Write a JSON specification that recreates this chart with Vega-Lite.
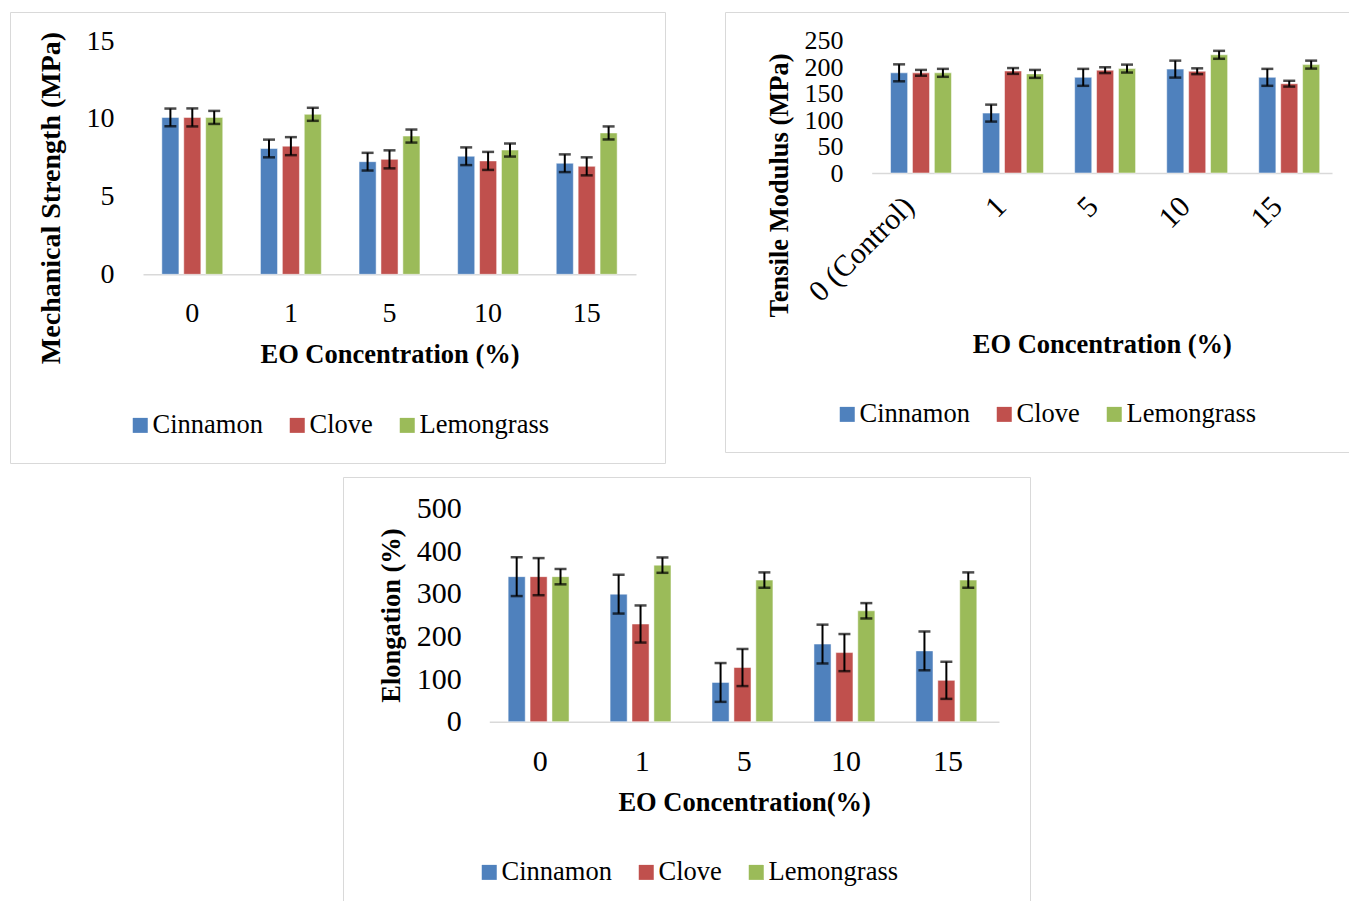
{
  "$schema": "https://vega.github.io/schema/vega-lite/v6.json",
  "padding": {"left": 9, "top": 11, "right": 0, "bottom": 0},
  "background": "white",
  "config": {
    "view": {"stroke": "#d9d9d9", "strokeWidth": 1},
    "font": "Liberation Serif",
    "axis": {"labelFont": "Liberation Serif", "titleFont": "Liberation Serif", "labelColor": "#000000", "titleColor": "#000000", "grid": false, "ticks": false, "labelOverlap": false, "labelFlush": false, "labelLimit": 400, "titleFontWeight": "bold", "titleFontSize": 26.5},
    "axisX": {"domainColor": "#d9d9d9", "domainWidth": 1.5},
    "axisY": {"domain": false},
    "legend": {"labelFont": "Liberation Serif", "labelColor": "#000000", "labelFontSize": 26.5, "symbolType": "square", "symbolSize": 225, "symbolStrokeWidth": 0, "labelOffset": -1, "columnPadding": 21, "direction": "horizontal", "orient": "none", "title": null}
  },
  "datasets": {
    "ms": [
      {"conc": "0", "oil": "Cinnamon", "value": 10.1, "lo": 9.53, "hi": 10.67},
      {"conc": "0", "oil": "Clove", "value": 10.1, "lo": 9.52, "hi": 10.68},
      {"conc": "0", "oil": "Lemongrass", "value": 10.1, "lo": 9.68, "hi": 10.52},
      {"conc": "1", "oil": "Cinnamon", "value": 8.1, "lo": 7.53, "hi": 8.67},
      {"conc": "1", "oil": "Clove", "value": 8.25, "lo": 7.67, "hi": 8.83},
      {"conc": "1", "oil": "Lemongrass", "value": 10.3, "lo": 9.88, "hi": 10.72},
      {"conc": "5", "oil": "Cinnamon", "value": 7.25, "lo": 6.68, "hi": 7.82},
      {"conc": "5", "oil": "Clove", "value": 7.4, "lo": 6.82, "hi": 7.98},
      {"conc": "5", "oil": "Lemongrass", "value": 8.9, "lo": 8.48, "hi": 9.32},
      {"conc": "10", "oil": "Cinnamon", "value": 7.6, "lo": 7.03, "hi": 8.17},
      {"conc": "10", "oil": "Clove", "value": 7.3, "lo": 6.72, "hi": 7.88},
      {"conc": "10", "oil": "Lemongrass", "value": 8.0, "lo": 7.58, "hi": 8.42},
      {"conc": "15", "oil": "Cinnamon", "value": 7.15, "lo": 6.58, "hi": 7.72},
      {"conc": "15", "oil": "Clove", "value": 6.95, "lo": 6.37, "hi": 7.53},
      {"conc": "15", "oil": "Lemongrass", "value": 9.1, "lo": 8.68, "hi": 9.52}
    ],
    "tm": [
      {"conc": "0 (Control)", "oil": "Cinnamon", "value": 189, "lo": 173, "hi": 205},
      {"conc": "0 (Control)", "oil": "Clove", "value": 189, "lo": 183.5, "hi": 194.5},
      {"conc": "0 (Control)", "oil": "Lemongrass", "value": 189, "lo": 181.5, "hi": 196.5},
      {"conc": "1", "oil": "Cinnamon", "value": 113, "lo": 97, "hi": 129},
      {"conc": "1", "oil": "Clove", "value": 192.5, "lo": 187, "hi": 198},
      {"conc": "1", "oil": "Lemongrass", "value": 187, "lo": 179.5, "hi": 194.5},
      {"conc": "5", "oil": "Cinnamon", "value": 180.5, "lo": 164.5, "hi": 196.5},
      {"conc": "5", "oil": "Clove", "value": 194, "lo": 188.5, "hi": 199.5},
      {"conc": "5", "oil": "Lemongrass", "value": 197, "lo": 189.5, "hi": 204.5},
      {"conc": "10", "oil": "Cinnamon", "value": 196, "lo": 180, "hi": 212},
      {"conc": "10", "oil": "Clove", "value": 192, "lo": 186.5, "hi": 197.5},
      {"conc": "10", "oil": "Lemongrass", "value": 223, "lo": 215.5, "hi": 230.5},
      {"conc": "15", "oil": "Cinnamon", "value": 180.5, "lo": 164.5, "hi": 196.5},
      {"conc": "15", "oil": "Clove", "value": 168.5, "lo": 163, "hi": 174},
      {"conc": "15", "oil": "Lemongrass", "value": 204.5, "lo": 197, "hi": 212}
    ],
    "el": [
      {"conc": "0", "oil": "Cinnamon", "value": 340, "lo": 294.5, "hi": 385.5},
      {"conc": "0", "oil": "Clove", "value": 340, "lo": 296.5, "hi": 383.5},
      {"conc": "0", "oil": "Lemongrass", "value": 340, "lo": 322, "hi": 358},
      {"conc": "1", "oil": "Cinnamon", "value": 299, "lo": 253.5, "hi": 344.5},
      {"conc": "1", "oil": "Clove", "value": 229, "lo": 185.5, "hi": 272.5},
      {"conc": "1", "oil": "Lemongrass", "value": 367, "lo": 349, "hi": 385},
      {"conc": "5", "oil": "Cinnamon", "value": 92, "lo": 46.5, "hi": 137.5},
      {"conc": "5", "oil": "Clove", "value": 127, "lo": 83.5, "hi": 170.5},
      {"conc": "5", "oil": "Lemongrass", "value": 332, "lo": 314, "hi": 350},
      {"conc": "10", "oil": "Cinnamon", "value": 182, "lo": 136.5, "hi": 227.5},
      {"conc": "10", "oil": "Clove", "value": 162, "lo": 118.5, "hi": 205.5},
      {"conc": "10", "oil": "Lemongrass", "value": 260, "lo": 242, "hi": 278},
      {"conc": "15", "oil": "Cinnamon", "value": 166, "lo": 120.5, "hi": 211.5},
      {"conc": "15", "oil": "Clove", "value": 97, "lo": 53.5, "hi": 140.5},
      {"conc": "15", "oil": "Lemongrass", "value": 332, "lo": 314, "hi": 350}
    ]
  },
  "spacing": 12,
  "resolve": {"scale": {"color": "independent"}, "legend": {"color": "independent"}},
  "vconcat": [
    {
      "spacing": 58,
      "resolve": {"scale": {"color": "independent"}, "legend": {"color": "independent"}},
      "hconcat": [
        {
          "width": 655, "height": 451,
          "data": {"name": "ms"},
          "encoding": {
            "x": {"field": "conc", "type": "nominal", "sort": ["0", "1", "5", "10", "15"],
              "scale": {"range": [133, 626], "paddingInner": 0, "paddingOuter": 0},
              "axis": {"title": "EO Concentration (%)", "offset": -188.7, "labelAngle": 0, "labelFontSize": 28, "labelPadding": 25, "titlePadding": 14}},
            "xOffset": {"field": "oil", "type": "nominal", "sort": ["Cinnamon", "Clove", "Lemongrass"], "scale": {"paddingInner": 0.22, "paddingOuter": 0.86}}
          },
          "layer": [
            {
              "mark": {"type": "bar", "stroke": "#ffffff", "strokeWidth": 1, "strokeOpacity": 0.5},
              "encoding": {
                "y": {"field": "value", "type": "quantitative", "title": "Mechanical Strength (MPa)",
                  "scale": {"domain": [0, 15], "range": [262.3, 29.3], "nice": false},
                  "axis": {"offset": -133, "values": [0, 5, 10, 15], "labelFontSize": 28, "labelPadding": 29, "titleFontSize": 28, "titlePadding": 21, "titleY": 185.5}},
                "color": {"field": "oil", "type": "nominal",
                  "scale": {"domain": ["Cinnamon", "Clove", "Lemongrass"], "range": ["#4F81BD", "#C0504D", "#9BBB59"]},
                  "legend": {"legendX": 117, "legendY": 400}}
              }
            },
            {
              "mark": {"type": "rule", "color": "#000000", "strokeWidth": 2},
              "encoding": {"y": {"field": "lo", "type": "quantitative", "title": "Mechanical Strength (MPa)"}, "y2": {"field": "hi"}}
            },
            {
              "mark": {"type": "tick", "color": "#000000", "size": 12, "thickness": 2.5},
              "encoding": {"y": {"field": "lo", "type": "quantitative", "title": "Mechanical Strength (MPa)"}}
            },
            {
              "mark": {"type": "tick", "color": "#000000", "size": 12, "thickness": 2.5},
              "encoding": {"y": {"field": "hi", "type": "quantitative", "title": "Mechanical Strength (MPa)"}}
            }
          ]
        },
        {
          "width": 624, "height": 440,
          "data": {"name": "tm"},
          "encoding": {
            "x": {"field": "conc", "type": "nominal", "sort": ["0 (Control)", "1", "5", "10", "15"],
              "scale": {"range": [146.7, 607], "paddingInner": 0, "paddingOuter": 0},
              "axis": {"title": "EO Concentration (%)", "offset": -279, "labelAngle": -45, "labelFontSize": 30, "labelPadding": 18, "labelOffset": -19, "titlePadding": 24}},
            "xOffset": {"field": "oil", "type": "nominal", "sort": ["Cinnamon", "Clove", "Lemongrass"], "scale": {"paddingInner": 0.22, "paddingOuter": 0.86}}
          },
          "layer": [
            {
              "mark": {"type": "bar", "stroke": "#ffffff", "strokeWidth": 1, "strokeOpacity": 0.5},
              "encoding": {
                "y": {"field": "value", "type": "quantitative", "title": "Tensile Modulus (MPa)",
                  "scale": {"domain": [0, 250], "range": [161, 28.5], "nice": false},
                  "axis": {"offset": -146.7, "values": [0, 50, 100, 150, 200, 250], "labelFontSize": 26, "labelPadding": 28.7, "titlePadding": 11, "titleY": 173}},
                "color": {"field": "oil", "type": "nominal",
                  "scale": {"domain": ["Cinnamon", "Clove", "Lemongrass"], "range": ["#4F81BD", "#C0504D", "#9BBB59"]},
                  "legend": {"legendX": 109, "legendY": 389}}
              }
            },
            {
              "mark": {"type": "rule", "color": "#000000", "strokeWidth": 2},
              "encoding": {"y": {"field": "lo", "type": "quantitative", "title": "Tensile Modulus (MPa)"}, "y2": {"field": "hi"}}
            },
            {
              "mark": {"type": "tick", "color": "#000000", "size": 12, "thickness": 2.5},
              "encoding": {"y": {"field": "lo", "type": "quantitative", "title": "Tensile Modulus (MPa)"}}
            },
            {
              "mark": {"type": "tick", "color": "#000000", "size": 12, "thickness": 2.5},
              "encoding": {"y": {"field": "hi", "type": "quantitative", "title": "Tensile Modulus (MPa)"}}
            }
          ]
        }
      ]
    },
    {
      "spacing": 0,
      "resolve": {"scale": {"color": "independent"}, "legend": {"color": "independent"}},
      "hconcat": [
        {
          "width": 332, "height": 10,
          "view": {"stroke": null},
          "data": {"values": []},
          "mark": "point"
        },
        {
          "width": 687, "height": 424,
          "data": {"name": "el"},
          "encoding": {
            "x": {"field": "conc", "type": "nominal", "sort": ["0", "1", "5", "10", "15"],
              "scale": {"range": [146.3, 656], "paddingInner": 0, "paddingOuter": 0},
              "axis": {"title": "EO Concentration(%)", "offset": -179.3, "labelAngle": 0, "labelFontSize": 30, "labelPadding": 25, "titlePadding": 13}},
            "xOffset": {"field": "oil", "type": "nominal", "sort": ["Cinnamon", "Clove", "Lemongrass"], "scale": {"paddingInner": 0.22, "paddingOuter": 0.86}}
          },
          "layer": [
            {
              "mark": {"type": "bar", "stroke": "#ffffff", "strokeWidth": 1, "strokeOpacity": 0.5},
              "encoding": {
                "y": {"field": "value", "type": "quantitative", "title": "Elongation (%)",
                  "scale": {"domain": [0, 500], "range": [244.7, 31.4], "nice": false},
                  "axis": {"offset": -146.3, "values": [0, 100, 200, 300, 400, 500], "labelFontSize": 30, "labelPadding": 28, "titlePadding": 11}},
                "color": {"field": "oil", "type": "nominal",
                  "scale": {"domain": ["Cinnamon", "Clove", "Lemongrass"], "range": ["#4F81BD", "#C0504D", "#9BBB59"]},
                  "legend": {"legendX": 133, "legendY": 382}}
              }
            },
            {
              "mark": {"type": "rule", "color": "#000000", "strokeWidth": 2},
              "encoding": {"y": {"field": "lo", "type": "quantitative", "title": "Elongation (%)"}, "y2": {"field": "hi"}}
            },
            {
              "mark": {"type": "tick", "color": "#000000", "size": 12, "thickness": 2.5},
              "encoding": {"y": {"field": "lo", "type": "quantitative", "title": "Elongation (%)"}}
            },
            {
              "mark": {"type": "tick", "color": "#000000", "size": 12, "thickness": 2.5},
              "encoding": {"y": {"field": "hi", "type": "quantitative", "title": "Elongation (%)"}}
            }
          ]
        }
      ]
    }
  ]
}
